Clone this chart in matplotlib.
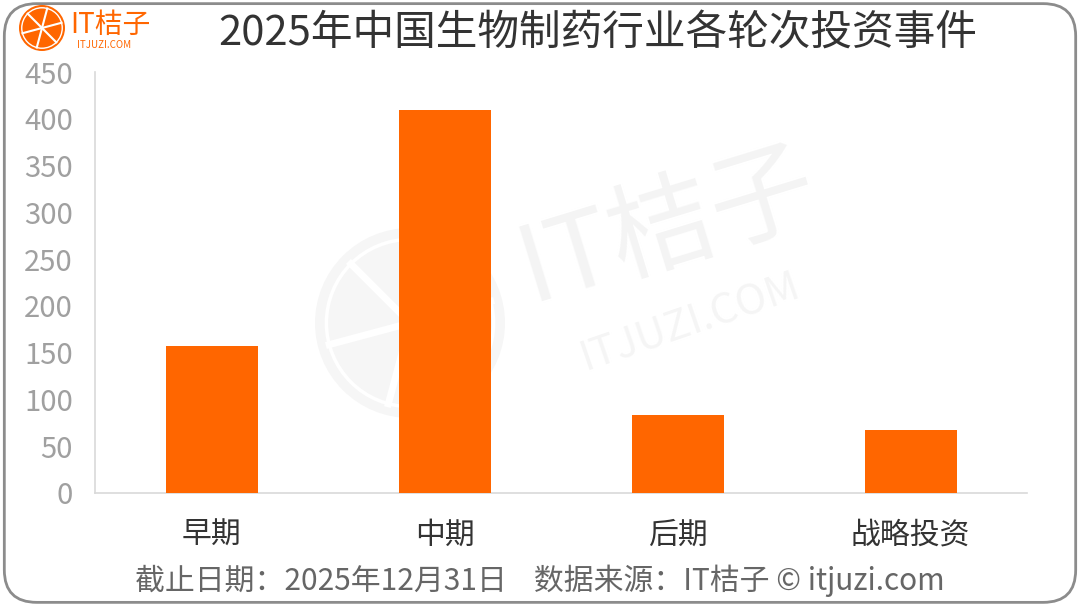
import matplotlib.pyplot as plt
import numpy as np
from matplotlib.patches import FancyBboxPatch, Circle

plt.rcParams['font.family'] = ['Noto Sans CJK SC', 'DejaVu Sans']

categories = ['早期', '中期', '后期', '战略投资']
counts = [157, 410, 83, 67]
yticks = [0, 50, 100, 150, 200, 250, 300, 350, 400, 450]

title = '2025年中国生物制药行业各轮次投资事件'
footer = '截止日期：2025年12月31日    数据来源：IT桔子 © itjuzi.com'

orange = '#FF6600'

fig = plt.figure(figsize=(10.8, 6.06), dpi=100)
H = 606


def badge(cx, cy, r, face, ring_w, spoke_w, z):
    # orange-slice logo, drawn in pixel coords (y from top)
    y = H - cy
    fig.patches.append(Circle((cx, y), r, transform=None, facecolor=face, edgecolor='none', zorder=z))
    fig.patches.append(Circle((cx, y), r * 0.88, transform=None, fill=False, edgecolor='white',
                              linewidth=ring_w, zorder=z + 0.1))
    for k in range(3):
        a = np.deg2rad(75 + k * 60)
        fig.add_artist(plt.Line2D([cx - r * 0.88 * np.cos(a), cx + r * 0.88 * np.cos(a)],
                                  [y - r * 0.88 * np.sin(a), y + r * 0.88 * np.sin(a)],
                                  transform=None, color='white', linewidth=spoke_w, zorder=z + 0.2))


# watermark (behind the chart)
badge(410, 323, 95, '#F6F6F6', 2.5, 5, -2)
fig.text(668 / 1080, 1 - 228 / H, 'IT桔子', ha='center', va='center', fontsize=76, color='#F4F4F4',
         rotation=17, zorder=-2)
fig.text(690 / 1080, 1 - 322 / H, 'ITJUZI.COM', ha='center', va='center', fontsize=30, color='#F5F5F5',
         rotation=19, zorder=-2)

ax = fig.add_axes([0.088, 0.1865, 0.863, 0.6945])
ax.patch.set_alpha(0)

x = np.arange(len(categories))
ax.bar(x, counts, width=0.395, color=orange, zorder=3)
ax.set_xlim(-0.5, len(categories) - 0.5)
ax.set_ylim(0, 450)
ax.set_yticks(yticks)
ax.set_yticklabels([str(t) for t in yticks], color='#A0A0A0', fontsize=21)
ax.set_xticks(x)
ax.set_xticklabels(categories, color='#333333', fontsize=21.5)
ax.tick_params(axis='x', length=0, pad=19)
ax.tick_params(axis='y', length=0, pad=16)
for s in ['top', 'right']:
    ax.spines[s].set_visible(False)
for s in ['left', 'bottom']:
    ax.spines[s].set_color('#D9D9D9')
    ax.spines[s].set_linewidth(1.2)

# title and footer
fig.text(598 / 1080, 1 - 33 / H, title, ha='center', va='center', fontsize=30, color='#333333')
fig.text(540 / 1080, 1 - 581 / H, footer, ha='center', va='center', fontsize=21.5, color='#666666')

# rounded border
border = FancyBboxPatch((0.004, 0.006), 0.992, 0.988, boxstyle='round,pad=0,rounding_size=0.03',
                        transform=fig.transFigure, fill=False, edgecolor='#8C8C8C', linewidth=2,
                        mutation_aspect=1.78)
fig.patches.append(border)

# logo top-left
badge(42, 28, 23, orange, 1.0, 1.5, 2)
fig.text(70 / 1080, 1 - 25 / H, 'IT桔子', ha='left', va='center', fontsize=20, color=orange)
fig.text(104 / 1080, 1 - 45 / H, 'ITJUZI.COM', ha='center', va='center', fontsize=7, color=orange)

fig.savefig('out.png', dpi=100)
